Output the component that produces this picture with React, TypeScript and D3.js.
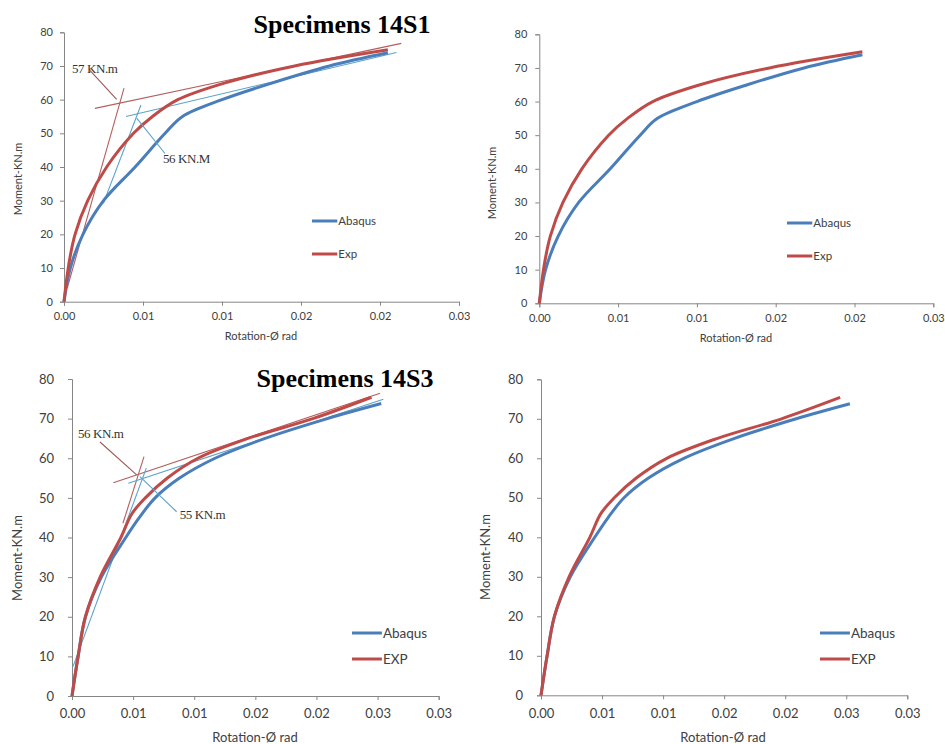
import React, { useEffect, useRef } from 'react';
import * as d3 from 'd3';

const WIDTH = 945;
const HEIGHT = 744;

const BLUE = '#4a7ebb';
const RED = '#be4b48';
const THIN_RED = '#b55f5f';
const THIN_BLUE = '#5ba3c9';

// moment axis
const yTicks = [0, 10, 20, 30, 40, 50, 60, 70, 80];
// rotation tick labels as excel rounds them (step 0.005)
const xLabels14S1 = ['0.00', '0.01', '0.01', '0.02', '0.02', '0.03'];
const xLabels14S3 = ['0.00', '0.01', '0.01', '0.02', '0.02', '0.03', '0.03'];

// specimen 14S1
const s1AbaqusRot = [0, 0.0004, 0.0012, 0.0025, 0.0045, 0.0064, 0.0075, 0.01, 0.0132, 0.0168, 0.0205];
const s1AbaqusMom = [0, 10, 20, 30, 40, 50, 55, 60, 65, 70, 73.9];
const s1ExpRot = [0, 0.0003, 0.0007, 0.0015, 0.0027, 0.0044, 0.0056, 0.0072, 0.0102, 0.0146, 0.0205];
const s1ExpMom = [0, 11, 20, 30, 40, 50, 55, 60, 65, 70, 74.8];

// specimen 14S3
const s3AbaqusRot = [0, 0.0005, 0.0011, 0.0024, 0.0044, 0.0055, 0.0068, 0.0088, 0.0117, 0.0158, 0.0209, 0.0253];
const s3AbaqusMom = [0, 10, 20, 30, 40, 45, 50, 55, 60, 65, 70, 73.8];
const s3ExpRot = [0, 0.0005, 0.0011, 0.0023, 0.004, 0.0049, 0.006, 0.0078, 0.0103, 0.0144, 0.0197, 0.0245];
const s3ExpMom = [0, 10, 20, 30, 40, 46, 50, 55, 60, 65, 70, 75.4];

// bilinear yield construction lines [rot, moment] pairs
const s1ExpTangents = [[[0.0002, 4], [0.0038, 63.4]], [[0.00196, 57.4], [0.02135, 76.7]]];
const s1AbaqusTangents = [[[0.00249, 29.2], [0.00487, 58.4]], [[0.00392, 55], [0.02104, 74]]];
const s3ExpTangents = [[[0.00417, 43.6], [0.00589, 60.4]], [[0.00338, 53.8], [0.0252, 76.4]]];
const s3AbaqusTangents = [[[0.00008, 7.4], [0.00608, 57.5]], [[0.00461, 53.7], [0.02547, 74.9]]];

// yield moment callouts: text, leader from, leader to
const s1Yield = [
  { text: '57 KN.m', from: [0.00164, 68.7], to: [0.00333, 60.1], series: 'exp' },
  { text: '56 KN.M', from: [0.00639, 44], to: [0.0046, 54.5], series: 'abaqus' },
];
const s3Yield = [
  { text: '56 KN.m', from: [0.00229, 64.1], to: [0.00529, 55.8], series: 'exp' },
  { text: '55 KN.m', from: [0.00856, 46.5], to: [0.00556, 55.35], series: 'abaqus' },
];

const zip = (xs: number[], ys: number[]) => xs.map((v, i) => [v, ys[i]] as [number, number]);

type Cfg = {
  left: number; top: number; right: number; bottom: number;
  xLabels: string[];
  abaqus: [number, number][];
  exp: [number, number][];
  expName: string;
  font: number;
  tickPadY: number;
  tickPadX: number;
  legend: [number, number, number];
  xTitle: [number, number];
  yTitle: [number, number];
  title?: { text: string; x: number; y: number };
  tangents?: { exp: number[][][]; abaqus: number[][][] };
  callouts?: { text: string; from: number[]; to: number[]; series: string }[];
  calloutSide?: number[];
};

function Panel({ cfg }: { cfg: Cfg }) {
  const xRef = useRef<SVGGElement>(null);
  const yRef = useRef<SVGGElement>(null);
  const xMax = (cfg.xLabels.length - 1) * 0.005;
  const x = d3.scaleLinear().domain([0, xMax]).range([cfg.left, cfg.right]);
  const y = d3.scaleLinear().domain([0, 80]).range([cfg.bottom, cfg.top]);
  const line = d3.line<[number, number]>().x(d => x(d[0])).y(d => y(d[1])).curve(d3.curveCatmullRom.alpha(0.5));
  const straight = d3.line<number[]>().x(d => x(d[0])).y(d => y(d[1]));

  useEffect(() => {
    const xAxis = d3.axisBottom(x)
      .tickValues(cfg.xLabels.map((_, i) => i * 0.005))
      .tickFormat((_, i) => cfg.xLabels[i])
      .tickSizeOuter(0).tickSize(4).tickPadding(cfg.tickPadX);
    const yAxis = d3.axisLeft(y).tickValues(yTicks).tickSizeOuter(0).tickSize(4).tickPadding(cfg.tickPadY);
    [d3.select(xRef.current).call(xAxis as any), d3.select(yRef.current).call(yAxis as any)].forEach(g => {
      g.attr('font-family', 'Lato, "Open Sans", sans-serif').attr('font-size', cfg.font);
      g.selectAll('path, line').attr('stroke', '#868686');
      g.selectAll('text').attr('fill', '#404040');
    });
  });

  const [lx, ly, gap] = cfg.legend;
  const legendItems = [
    { name: 'Abaqus', color: BLUE },
    { name: cfg.expName, color: RED },
  ];

  return (
    <g>
      <g ref={xRef} transform={`translate(0,${cfg.bottom})`} />
      <g ref={yRef} transform={`translate(${cfg.left},0)`} />
      {cfg.tangents && (
        <g fill="none" strokeWidth={1.1}>
          {cfg.tangents.exp.map((t, i) => <path key={'e' + i} d={straight(t) || ''} stroke={THIN_RED} />)}
          {cfg.tangents.abaqus.map((t, i) => <path key={'a' + i} d={straight(t) || ''} stroke={THIN_BLUE} />)}
        </g>
      )}
      <path d={line(cfg.abaqus) || ''} fill="none" stroke={BLUE} strokeWidth={3} strokeLinejoin="round" />
      <path d={line(cfg.exp) || ''} fill="none" stroke={RED} strokeWidth={3} strokeLinejoin="round" />
      {cfg.callouts && cfg.callouts.map((c, i) => (
        <g key={i}>
          <line x1={x(c.from[0])} y1={y(c.from[1])} x2={x(c.to[0])} y2={y(c.to[1])}
            stroke={c.series === 'exp' ? '#9a5a5a' : THIN_BLUE} strokeWidth={1.1} />
          <text x={x(c.from[0]) + (cfg.calloutSide ? cfg.calloutSide[i * 2] : 0)}
            y={y(c.from[1]) + (cfg.calloutSide ? cfg.calloutSide[i * 2 + 1] : 0)}
            fontFamily='"Liberation Serif", "Times New Roman", serif' fontSize={13}
            fill="#333" letterSpacing={-0.4}>{c.text}</text>
        </g>
      ))}
      {legendItems.map((it, i) => (
        <g key={it.name} transform={`translate(${lx},${ly + i * gap})`}>
          <line x1={0} x2={cfg.font * 2.3} stroke={it.color} strokeWidth={3} />
          <text x={cfg.font * 2.3 + 1} dy="0.35em" fontFamily='Lato, "Open Sans", sans-serif'
            fontSize={cfg.font + 0.5} fill="#404040">{it.name}</text>
        </g>
      ))}
      <text x={cfg.xTitle[0]} y={cfg.xTitle[1]} textAnchor="middle" fontFamily='Lato, "Open Sans", sans-serif'
        fontSize={cfg.font} fill="#404040">Rotation-Ø rad</text>
      <text transform={`translate(${cfg.yTitle[0]},${cfg.yTitle[1]}) rotate(-90)`} textAnchor="middle"
        fontFamily='Lato, "Open Sans", sans-serif' fontSize={cfg.font} fill="#404040">Moment-KN.m</text>
      {cfg.title && (
        <text x={cfg.title.x} y={cfg.title.y} textAnchor="middle" fontFamily='"Liberation Serif", "Times New Roman", serif'
          fontWeight="bold" fontSize={26} fill="#000">{cfg.title.text}</text>
      )}
    </g>
  );
}

const panels: Cfg[] = [
  {
    left: 64, top: 32.3, right: 459, bottom: 301.7, xLabels: xLabels14S1,
    abaqus: zip(s1AbaqusRot, s1AbaqusMom), exp: zip(s1ExpRot, s1ExpMom), expName: 'Exp',
    font: 11, tickPadY: 7, tickPadX: 7, legend: [312, 221, 33], xTitle: [261, 340], yTitle: [22, 179],
    title: { text: 'Specimens 14S1', x: 342, y: 33 },
    tangents: { exp: s1ExpTangents, abaqus: s1AbaqusTangents }, callouts: s1Yield,
    calloutSide: [-18, 3, -2, 9],
  },
  {
    left: 539.3, top: 34.3, right: 933.3, bottom: 303.3, xLabels: xLabels14S1,
    abaqus: zip(s1AbaqusRot, s1AbaqusMom), exp: zip(s1ExpRot, s1ExpMom), expName: 'Exp',
    font: 11, tickPadY: 8, tickPadX: 7, legend: [787, 223, 33], xTitle: [736, 342], yTitle: [496, 183],
  },
  {
    left: 72, top: 379, right: 438.7, bottom: 696, xLabels: xLabels14S3,
    abaqus: zip(s3AbaqusRot, s3AbaqusMom), exp: zip(s3ExpRot, s3ExpMom), expName: 'EXP',
    font: 13, tickPadY: 14, tickPadX: 9, legend: [352, 633, 26], xTitle: [255, 742], yTitle: [22, 558],
    title: { text: 'Specimens 14S3', x: 345, y: 387 },
    tangents: { exp: s3ExpTangents, abaqus: s3AbaqusTangents }, callouts: s3Yield,
    calloutSide: [-22, -4, 3, 7],
  },
  {
    left: 541, top: 379.3, right: 907.3, bottom: 695.3, xLabels: xLabels14S3,
    abaqus: zip(s3AbaqusRot, s3AbaqusMom), exp: zip(s3ExpRot, s3ExpMom), expName: 'EXP',
    font: 13, tickPadY: 14, tickPadX: 9, legend: [820, 633, 26], xTitle: [723, 742], yTitle: [490, 557],
  },
];

export default function App() {
  return (
    <svg xmlns="http://www.w3.org/2000/svg" width={WIDTH} height={HEIGHT}
      style={{ position: 'absolute', left: 0, top: 0, background: '#fff' }}>
      {panels.map((p, i) => <Panel key={i} cfg={p} />)}
    </svg>
  );
}
